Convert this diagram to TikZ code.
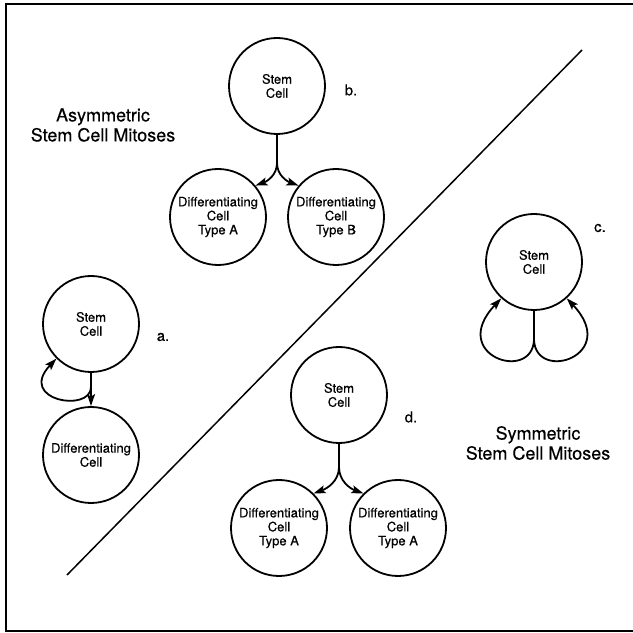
\documentclass[tikz,border=0pt]{standalone}
\usepackage{fontspec}
\setmainfont{TeX Gyre Heros}[FakeBold=0.4]
\usetikzlibrary{arrows.meta, positioning}

\begin{document}
\begin{tikzpicture}[x=1pt, y=1pt, line width=1.8pt,
    cell/.style={draw, circle, minimum size=96pt, inner sep=0pt, align=center,
      font=\fontsize{13}{14}\selectfont},
    caption/.style={align=center, font=\fontsize{18}{20}\selectfont},
    tag/.style={font=\fontsize{15}{17}\selectfont},
    arr/.style={-{Stealth[length=12pt, width=8pt, inset=2.5pt]}}]
    \useasboundingbox (0,0) rectangle (633,633);
    \draw[line width=1.5pt] (6,2) rectangle (660,629);
    \coordinate (lo) at (67,58);
    \coordinate (hi) at (582,583);
    \draw[line width=1.5pt] (lo) -- (hi);

    \node[caption] (asym) at (103,508) {Asymmetric\\Stem Cell Mitoses};
    \node[caption] (sym) at (538,190) {Symmetric\\Stem Cell Mitoses};

    % a.
    \node[cell] (astem) at (91,309) {Stem\\Cell};
    \node[cell] (adiff) at (91,178) {Differentiating\\Cell};
    \coordinate (aloop) at (91,246);
    \draw[arr] (astem) -- (adiff);
    \draw[arr] (aloop) .. controls +(0,-26) and +(-40,-42) .. (astem.225);

    % b.
    \node[cell] (bstem) at (277,547) {Stem\\Cell};
    \node[cell] (bA) at (218,416) {Differentiating\\Cell\\Type A};
    \node[cell] (bB) at (336,416) {Differentiating\\Cell\\Type B};
    \coordinate (bsplit) at (277,470);
    \draw (bstem) -- (bsplit);
    \draw[arr] (bsplit) to[out=-90, in=20] (bA.40);
    \draw[arr] (bsplit) to[out=-90, in=160] (bB.140);

    % c.
    \node[cell] (cstem) at (534,371) {Stem\\Cell};
    \coordinate (csplit) at (534,293);
    \draw (cstem) -- (csplit);
    \draw[arr] (csplit) .. controls +(-2,-43) and +(-54,-57) .. (cstem.228);
    \draw[arr] (csplit) .. controls +(2,-43) and +(54,-57) .. (cstem.312);

    % d.
    \node[cell] (dstem) at (339,238) {Stem\\Cell};
    \node[cell] (dA) at (279,105) {Differentiating\\Cell\\Type A};
    \node[cell] (dB) at (398,105) {Differentiating\\Cell\\Type A};
    \coordinate (dsplit) at (339,166);
    \draw (dstem) -- (dsplit);
    \draw[arr] (dsplit) to[out=-90, in=20] (dA.45);
    \draw[arr] (dsplit) to[out=-90, in=160] (dB.135);

    \foreach \n/\t/\p in {ta/a./{163,296}, tb/b./{351,543}, tc/c./{600,405}, td/d./{411,216}}{
      \node[tag] (\n) at (\p) {\t};
    }
\end{tikzpicture}
\end{document}
